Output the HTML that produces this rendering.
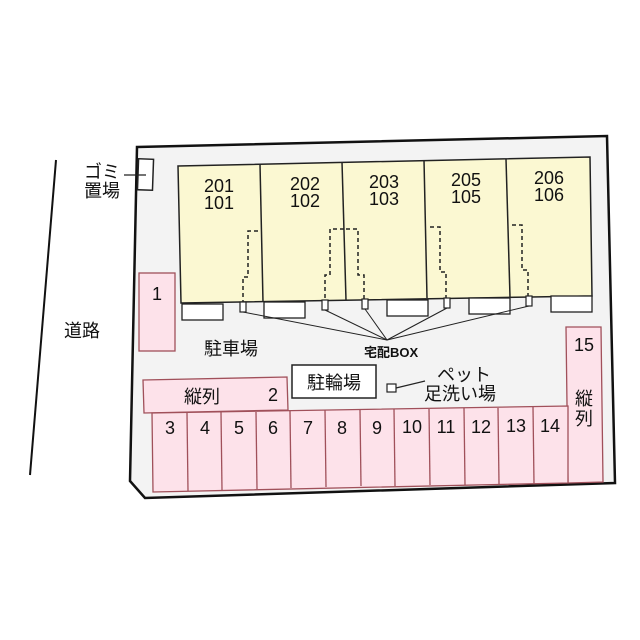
<!DOCTYPE html>
<html><head><meta charset="utf-8"><style>
body{margin:0;background:#fff;}
svg{display:block}
text{font-family:"Liberation Sans","Noto Sans CJK JP",sans-serif;fill:#111}
</style></head><body>
<svg width="640" height="640" viewBox="0 0 640 640" xmlns="http://www.w3.org/2000/svg">
<line x1="56" y1="160" x2="30" y2="475" stroke="#111" stroke-width="2"/>
<polygon points="137,147 607,136 615,483 145,498 130,481" fill="#f3f3f3" stroke="#111" stroke-width="2.5"/>
<rect x="138" y="159" width="15" height="31" fill="#fff" stroke="#222" stroke-width="1.5" transform="rotate(2 145 175)"/>
<line x1="124" y1="175" x2="146" y2="175" stroke="#222" stroke-width="1.3"/>
<text x="84" y="178" font-size="18">ゴミ</text>
<text x="84" y="197" font-size="18">置場</text>
<text x="64" y="337" font-size="18">道路</text>
<polygon points="178,166 590,157 592,296 181,303" fill="#fbf8d2" stroke="#222" stroke-width="1.5"/>
<g stroke="#222" stroke-width="1.5">
<line x1="260" y1="164" x2="263" y2="302"/>
<line x1="342" y1="162" x2="346" y2="300"/>
<line x1="424" y1="160" x2="427" y2="298"/>
<line x1="506" y1="159" x2="510" y2="297"/>
</g>
<g font-size="18" text-anchor="middle">
<text x="219" y="192">201</text><text x="219" y="209">101</text>
<text x="305" y="190">202</text><text x="305" y="207">102</text>
<text x="384" y="188">203</text><text x="384" y="205">103</text>
<text x="466" y="186">205</text><text x="466" y="203">105</text>
<text x="549" y="184">206</text><text x="549" y="201">106</text>
</g>
<g fill="#fff" stroke="#222" stroke-width="1.3">
<rect x="182" y="304" width="41" height="16"/>
<rect x="264" y="302" width="41" height="16"/>
<rect x="387" y="300" width="41" height="16"/>
<rect x="469" y="298" width="41" height="16"/>
<rect x="551" y="296" width="41" height="16"/>
</g>
<g fill="none" stroke="#222" stroke-width="1.5" stroke-dasharray="4,3">
<polyline points="258,231 248,231 248,277 243,277 243,302"/>
<polyline points="344,229 330,229 330,275 325,275 325,301"/>
<polyline points="346,229 358,229 358,275 364,275 364,300"/>
<polyline points="430,227 440,227 440,272 446,272 446,298"/>
<polyline points="512,225 522,225 522,270 528,270 528,296"/>
</g>
<g fill="#fff" stroke="#222" stroke-width="1.2">
<rect x="240" y="302" width="6" height="10"/>
<rect x="322" y="300" width="6" height="10"/>
<rect x="362" y="299" width="6" height="10"/>
<rect x="444" y="298" width="6" height="10"/>
<rect x="526" y="296" width="6" height="10"/>
</g>
<g stroke="#222" stroke-width="1">
<line x1="243" y1="312" x2="387" y2="340"/>
<line x1="325" y1="310" x2="387" y2="340"/>
<line x1="365" y1="309" x2="387" y2="340"/>
<line x1="447" y1="308" x2="387" y2="340"/>
<line x1="529" y1="306" x2="387" y2="340"/>
</g>
<text x="364" y="357" font-size="13" font-weight="bold">宅配BOX</text>
<text x="204" y="355" font-size="18">駐車場</text>
<g fill="#fde2ea" stroke="#a0505a" stroke-width="1.3">
<rect x="139" y="273" width="36" height="78"/>
<polygon points="143,380 287,377 288,410 144,413"/>
<polygon points="566,327 601,327 603,482 568,483"/>
<polygon points="152,413 568,406 568,483 153,492"/>
</g>
<g stroke="#a0505a" stroke-width="1.3">
<line x1="187" y1="413" x2="188" y2="491"/>
<line x1="221" y1="412" x2="222" y2="490"/>
<line x1="256" y1="412" x2="257" y2="489"/>
<line x1="290" y1="411" x2="291" y2="488"/>
<line x1="325" y1="410" x2="326" y2="487"/>
<line x1="360" y1="410" x2="361" y2="486"/>
<line x1="394" y1="409" x2="395" y2="486"/>
<line x1="429" y1="409" x2="430" y2="485"/>
<line x1="464" y1="408" x2="465" y2="485"/>
<line x1="498" y1="408" x2="499" y2="484"/>
<line x1="533" y1="407" x2="534" y2="484"/>
</g>
<g font-size="18" text-anchor="middle">
<text x="157" y="300">1</text>
<text x="273" y="401">2</text>
<text x="170" y="434">3</text><text x="205" y="434">4</text><text x="239" y="434">5</text><text x="273" y="434">6</text>
<text x="308" y="434">7</text><text x="342" y="434">8</text><text x="377" y="434">9</text><text x="412" y="433">10</text>
<text x="446" y="433">11</text><text x="481" y="433">12</text><text x="516" y="432">13</text><text x="550" y="432">14</text>
<text x="584" y="351">15</text>
<text x="584" y="405">縦</text><text x="584" y="425">列</text>
</g>
<text x="184" y="403" font-size="18">縦列</text>
<rect x="292" y="365" width="84" height="33" fill="#fff" stroke="#222" stroke-width="1.5"/>
<text x="334" y="389" font-size="18" text-anchor="middle">駐輪場</text>
<rect x="387" y="384" width="9" height="8" fill="#fff" stroke="#222" stroke-width="1.2"/>
<line x1="396" y1="388" x2="425" y2="381" stroke="#222" stroke-width="1.2"/>
<text x="437" y="381" font-size="18">ペット</text>
<text x="424" y="400" font-size="18">足洗い場</text>
</svg>
</body></html>
